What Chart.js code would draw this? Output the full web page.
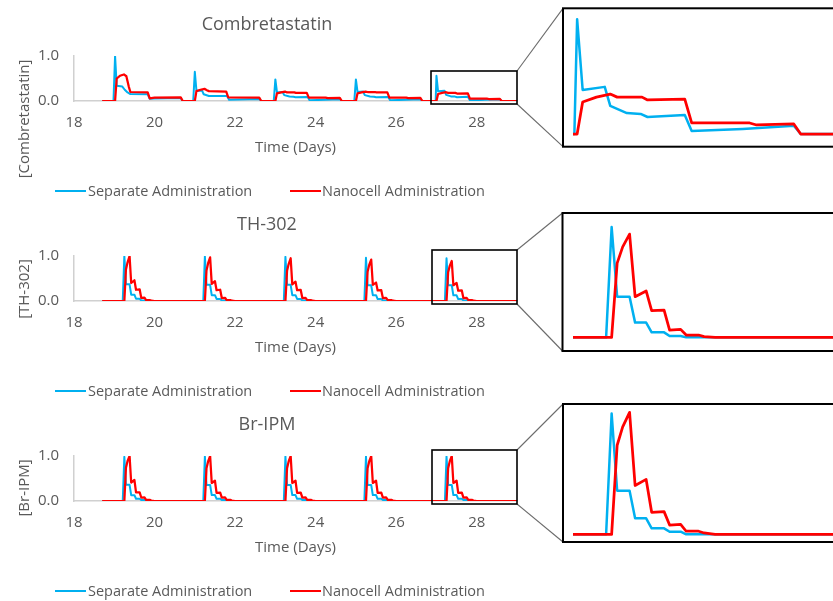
<!DOCTYPE html>
<html>
<head>
<meta charset="utf-8">
<script src="https://cdn.jsdelivr.net/npm/chart.js@4.4.1/dist/chart.umd.min.js"></script>
<style>
  html, body { margin: 0; padding: 0; background: #fff; }
  body { width: 833px; height: 601px; overflow: hidden; position: relative; font-family: 'Open Sans', sans-serif; color: #595959; }
  .abs { position: absolute; }
  .title { font-size: 18px; line-height: 24px; text-align: center; white-space: nowrap; }
  .ytitle { font-size: 15px; line-height: 20px; width: 200px; text-align: center; transform: rotate(-90deg); white-space: nowrap; }
  .legtext { font-size: 14.5px; line-height: 20px; white-space: nowrap; }
  .legline { height: 2.5px; width: 31px; }
  canvas { display: block; }
</style>
</head>
<body>
<script>
// ---------------- DATA ----------------
const drugNames = ['Combretastatin', 'TH-302', 'Br-IPM'];
const axisTitles = ['[Combretastatin]', '[TH-302]', '[Br-IPM]'];
const seriesNames = ['Separate Administration', 'Nanocell Administration'];
const xAxisTitle = 'Time (Days)';
const dayTicks = [18, 29, 2];        // min, max, step
const concTicks = [0, 1, 1];         // min, max, step
const insetDays = [26.97, 28.854];   // zoomed time window

// Combretastatin [day, concentration]
const combSeparate = [
  [18.70,0],[18.98,0],[19.02,1.00],[19.06,0.34],[19.20,0.32],[19.26,0.25],[19.33,0.19],[19.40,0.155],[19.83,0.15],[19.88,0.05],[20.00,0.055],[20.65,0.065],[20.70,0],[20.96,0],
  [21.00,0.65],[21.04,0.23],[21.18,0.23],[21.22,0.15],[21.35,0.11],[21.80,0.11],[21.85,0.03],[22.60,0.045],[22.65,0],[22.96,0],
  [23.00,0.48],[23.04,0.19],[23.18,0.20],[23.22,0.13],[23.35,0.10],[23.45,0.095],[23.50,0.085],[23.80,0.09],[23.85,0.015],[24.60,0.04],[24.65,0],[24.96,0],
  [25.00,0.48],[25.04,0.20],[25.18,0.21],[25.22,0.13],[25.35,0.10],[25.45,0.095],[25.50,0.085],[25.80,0.09],[25.85,0.015],[26.60,0.04],[26.65,0],[26.98,0],
  [27.00,0.56],[27.04,0.215],[27.20,0.23],[27.24,0.137],[27.36,0.102],[27.46,0.098],[27.51,0.083],[27.78,0.093],[27.83,0.015],[28.20,0.025],[28.57,0.04],[28.62,0],[29.00,0]
];
const combNanocell = [
  [18.70,0],[19.02,0],[19.06,0.50],[19.14,0.56],[19.24,0.59],[19.30,0.55],[19.36,0.32],[19.40,0.20],[19.83,0.19],[19.88,0.06],[20.00,0.075],[20.65,0.08],[20.70,0],[21.00,0],
  [21.04,0.22],[21.14,0.25],[21.24,0.27],[21.30,0.24],[21.35,0.22],[21.78,0.21],[21.83,0.08],[22.60,0.075],[22.65,0],[23.00,0],
  [23.04,0.17],[23.14,0.19],[23.24,0.21],[23.29,0.19],[23.47,0.19],[23.51,0.18],[23.78,0.18],[23.83,0.075],[24.25,0.075],[24.30,0.065],[24.60,0.07],[24.65,0],[25.00,0],
  [25.04,0.17],[25.14,0.19],[25.24,0.21],[25.29,0.20],[25.47,0.20],[25.51,0.19],[25.78,0.19],[25.83,0.075],[26.25,0.075],[26.30,0.065],[26.60,0.07],[26.65,0],[27.00,0],
  [27.04,0.156],[27.14,0.18],[27.24,0.195],[27.29,0.18],[27.47,0.18],[27.51,0.166],[27.78,0.17],[27.83,0.054],[28.25,0.054],[28.30,0.044],[28.57,0.049],[28.62,0],[29.00,0]
];

// TH-302
const thSeparate = [
  [18.70,0],[19.21,0],[19.25,1.00],[19.29,0.37],[19.38,0.37],[19.42,0.14],[19.50,0.14],[19.54,0.05],[19.63,0.05],[19.67,0.013],[19.75,0.013],[19.79,0],
  [21.21,0],[21.25,0.99],[21.29,0.36],[21.38,0.36],[21.42,0.13],[21.50,0.13],[21.54,0.045],[21.63,0.045],[21.67,0.012],[21.75,0.012],[21.79,0],
  [23.21,0],[23.25,0.98],[23.29,0.36],[23.38,0.36],[23.42,0.13],[23.50,0.13],[23.54,0.045],[23.63,0.045],[23.67,0.012],[23.75,0.012],[23.79,0],
  [25.21,0],[25.25,0.96],[25.29,0.35],[25.38,0.35],[25.42,0.13],[25.50,0.13],[25.54,0.044],[25.63,0.044],[25.67,0.011],[25.75,0.011],[25.79,0],
  [27.21,0],[27.25,0.95],[27.29,0.35],[27.38,0.35],[27.42,0.127],[27.50,0.127],[27.54,0.043],[27.63,0.043],[27.67,0.011],[27.75,0.011],[27.79,0],[29.00,0]
];
const thNanocell = [
  [18.70,0],[19.25,0],[19.29,0.70],[19.33,0.86],[19.38,1.00],[19.42,0.40],[19.50,0.46],[19.54,0.25],[19.63,0.26],[19.67,0.07],[19.75,0.075],[19.79,0.022],[19.88,0.022],[19.92,0.007],[20.00,0],
  [21.25,0],[21.29,0.68],[21.33,0.84],[21.38,0.97],[21.42,0.38],[21.50,0.44],[21.54,0.24],[21.63,0.25],[21.67,0.066],[21.75,0.072],[21.79,0.021],[21.88,0.021],[21.92,0.006],[22.00,0],
  [23.25,0],[23.29,0.67],[23.33,0.82],[23.38,0.95],[23.42,0.37],[23.50,0.43],[23.54,0.24],[23.63,0.245],[23.67,0.065],[23.75,0.07],[23.79,0.02],[23.88,0.02],[23.92,0.006],[24.00,0],
  [25.25,0],[25.29,0.65],[25.33,0.80],[25.38,0.92],[25.42,0.36],[25.50,0.41],[25.54,0.235],[25.63,0.24],[25.67,0.064],[25.75,0.07],[25.79,0.02],[25.88,0.02],[25.92,0.006],[26.00,0],
  [27.25,0],[27.29,0.64],[27.33,0.78],[27.38,0.89],[27.42,0.35],[27.50,0.40],[27.54,0.23],[27.63,0.235],[27.67,0.063],[27.75,0.069],[27.79,0.02],[27.88,0.02],[27.92,0.006],[28.00,0],[29.00,0]
];

// Br-IPM
const brSeparate = [
  [18.70,0],[19.21,0],[19.25,0.98],[19.29,0.36],[19.38,0.36],[19.42,0.13],[19.50,0.13],[19.54,0.05],[19.63,0.05],[19.67,0.021],[19.75,0.021],[19.79,0],
  [21.21,0],[21.25,0.99],[21.29,0.357],[21.38,0.357],[21.42,0.131],[21.50,0.131],[21.54,0.049],[21.63,0.049],[21.67,0.021],[21.75,0.021],[21.79,0],
  [23.21,0],[23.25,0.99],[23.29,0.357],[23.38,0.357],[23.42,0.131],[23.50,0.131],[23.54,0.049],[23.63,0.049],[23.67,0.021],[23.75,0.021],[23.79,0],
  [25.21,0],[25.25,0.99],[25.29,0.357],[25.38,0.357],[25.42,0.131],[25.50,0.131],[25.54,0.049],[25.63,0.049],[25.67,0.021],[25.75,0.021],[25.79,0],
  [27.21,0],[27.25,0.99],[27.29,0.357],[27.38,0.357],[27.42,0.131],[27.50,0.131],[27.54,0.049],[27.63,0.049],[27.67,0.021],[27.75,0.021],[27.79,0],[29.00,0]
];
const brNanocell = [
  [18.70,0],[19.25,0],[19.29,0.74],[19.33,0.89],[19.38,1.00],[19.42,0.41],[19.50,0.47],[19.54,0.19],[19.63,0.19],[19.67,0.077],[19.75,0.082],[19.79,0.025],[19.88,0.025],[19.92,0.011],[20.00,0],
  [21.25,0],[21.29,0.73],[21.33,0.88],[21.38,1.00],[21.42,0.40],[21.50,0.45],[21.54,0.18],[21.63,0.186],[21.67,0.076],[21.75,0.081],[21.79,0.025],[21.88,0.025],[21.92,0.011],[22.00,0],
  [23.25,0],[23.29,0.73],[23.33,0.88],[23.38,1.00],[23.42,0.40],[23.50,0.45],[23.54,0.18],[23.63,0.186],[23.67,0.076],[23.75,0.081],[23.79,0.025],[23.88,0.025],[23.92,0.011],[24.00,0],
  [25.25,0],[25.29,0.73],[25.33,0.88],[25.38,1.00],[25.42,0.40],[25.50,0.45],[25.54,0.18],[25.63,0.186],[25.67,0.076],[25.75,0.081],[25.79,0.025],[25.88,0.025],[25.92,0.011],[26.00,0],
  [27.25,0],[27.29,0.73],[27.33,0.88],[27.38,1.00],[27.42,0.40],[27.50,0.45],[27.54,0.18],[27.63,0.186],[27.67,0.076],[27.75,0.081],[27.79,0.025],[27.88,0.025],[27.92,0.011],[28.00,0],[29.00,0]
];

// ---------------- LAYOUT / STYLE ----------------
const BLUE = '#00b0f0', RED = '#ff0000', TXT = '#595959', AXIS = '#d0d0d0';
const FONT = "'Open Sans', sans-serif";
const panels = [
  { sep: combSeparate, nano: combNanocell, top: 0,   titleY: 23,  yTitleY: 118.5, legY: 191,
    inset: { top: 9,   h: 137, yr: [-0.0585, 0.61] },
    zoom: [431, 71, 517, 104], box: [563, 8.3, 146.7] },
  { sep: thSeparate,   nano: thNanocell,   top: 200, titleY: 222.5, yTitleY: 289, legY: 391,
    inset: { top: 214, h: 136, yr: [-0.109, 1.063] },
    zoom: [432, 250, 517, 304], box: [562.5, 213, 351] },
  { sep: brSeparate,   nano: brNanocell,   top: 400, titleY: 423, yTitleY: 487.5, legY: 591,
    inset: { top: 405, h: 136, yr: [-0.055, 1.06] },
    zoom: [432, 450, 517, 504], box: [563, 404, 542] }
];

const toXY = a => a.map(p => ({ x: p[0], y: p[1] }));

function el(tag, cls, style, text) {
  const e = document.createElement(tag);
  if (cls) e.className = cls;
  Object.assign(e.style, style);
  if (text != null) e.textContent = text;
  document.body.appendChild(e);
  return e;
}

function datasets(sep, nano, w) {
  return [
    { label: seriesNames[0], data: toXY(sep), borderColor: BLUE, backgroundColor: BLUE, borderWidth: w, order: 1 },
    { label: seriesNames[1], data: toXY(nano), borderColor: RED, backgroundColor: RED, borderWidth: w + 0.25, order: 0 }
  ];
}

const common = {
  responsive: false, animation: false, events: [],
  elements: { point: { radius: 0 }, line: { tension: 0, borderJoinStyle: 'round', fill: false } },
  plugins: { legend: { display: false }, tooltip: { enabled: false }, title: { display: false } }
};

panels.forEach((p, i) => {
  // main chart canvas
  const c = el('canvas', 'abs', { left: '0px', top: p.top + 'px' });
  c.width = 537; c.height = 170;
  new Chart(c, {
    type: 'line',
    data: { datasets: datasets(p.sep, p.nano, 2) },
    options: Object.assign({}, common, {
      layout: { padding: { top: 56, right: 20, left: 0, bottom: 0 } },
      scales: {
        x: {
          type: 'linear', min: dayTicks[0], max: dayTicks[1],
          grid: { display: false, drawTicks: false },
          border: { display: true, color: AXIS, width: 1.5 },
          ticks: { stepSize: dayTicks[2], includeBounds: false, padding: 13, color: TXT, maxRotation: 0,
                   font: { family: FONT, size: 15 } },
          title: { display: true, text: xAxisTitle, color: TXT, font: { family: FONT, size: 15 },
                   padding: { top: 0, bottom: 13 } },
          afterFit: s => { s.height = 69; }
        },
        y: {
          type: 'linear', min: concTicks[0], max: concTicks[1],
          grid: { display: false, drawTicks: false },
          border: { display: true, color: AXIS, width: 1.5 },
          ticks: { stepSize: concTicks[2], padding: 15, color: TXT, font: { family: FONT, size: 15 },
                   callback: v => Number(v).toFixed(1) },
          afterFit: s => { s.width = 74; }
        }
      }
    })
  });

  // inset chart canvas
  const ic = el('canvas', 'abs', { left: '564px', top: p.inset.top + 'px' });
  ic.width = 269; ic.height = p.inset.h;
  new Chart(ic, {
    type: 'line',
    data: { datasets: datasets(p.sep, p.nano, 2.5) },
    options: Object.assign({}, common, {
      layout: { padding: { top: 0, right: 0, left: 9, bottom: 0 } },
      scales: {
        x: { type: 'linear', display: false, min: insetDays[0], max: insetDays[1] },
        y: { type: 'linear', display: false, min: p.inset.yr[0], max: p.inset.yr[1] }
      }
    })
  });

  // texts
  el('div', 'abs title', { left: '0px', width: '534px', top: (p.titleY - 12) + 'px' }, drugNames[i]);
  el('div', 'abs ytitle', { left: (22.5 - 100) + 'px', top: (p.yTitleY - 10) + 'px' }, axisTitles[i]);
  el('div', 'abs legline', { left: '55px', top: (p.legY - 1.25) + 'px', background: BLUE });
  el('div', 'abs legtext', { left: '88px', top: (p.legY - 10.5) + 'px' }, seriesNames[0]);
  el('div', 'abs legline', { left: '290px', top: (p.legY - 1.25) + 'px', background: RED });
  el('div', 'abs legtext', { left: '322px', top: (p.legY - 10.5) + 'px' }, seriesNames[1]);
});

// zoom frames and connectors
const NS = 'http://www.w3.org/2000/svg';
const svg = document.createElementNS(NS, 'svg');
svg.setAttribute('width', 833); svg.setAttribute('height', 601);
svg.style.position = 'absolute'; svg.style.left = '0'; svg.style.top = '0';
function sv(tag, attrs) {
  const e = document.createElementNS(NS, tag);
  for (const k in attrs) e.setAttribute(k, attrs[k]);
  svg.appendChild(e);
}
panels.forEach(p => {
  const [x1, y1, x2, y2] = p.zoom;
  const [bx, by1, by2] = p.box;
  sv('line', { x1: x2, y1: y1, x2: bx, y2: by1, stroke: '#6b6b6b', 'stroke-width': 1.1 });
  sv('line', { x1: x2, y1: y2, x2: bx, y2: by2, stroke: '#6b6b6b', 'stroke-width': 1.1 });
  sv('rect', { x: x1, y: y1, width: x2 - x1, height: y2 - y1, fill: 'none', stroke: '#000', 'stroke-width': 1.6 });
  sv('rect', { x: bx, y: by1, width: 400, height: by2 - by1, fill: 'none', stroke: '#000', 'stroke-width': 2 });
});
document.body.appendChild(svg);
</script>
</body>
</html>
